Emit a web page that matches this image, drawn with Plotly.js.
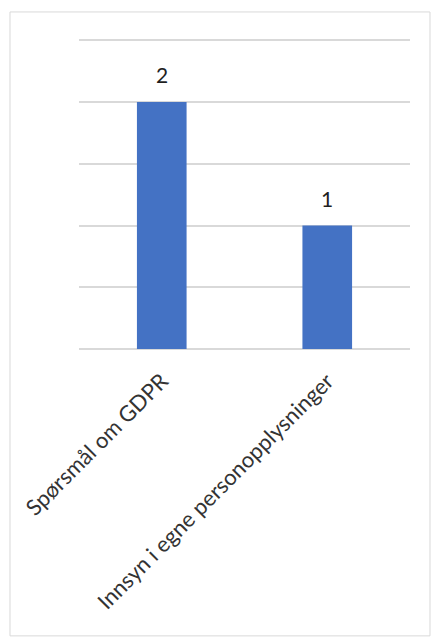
<!DOCTYPE html>
<html>
<head>
<meta charset="utf-8">
<script src="https://cdn.plot.ly/plotly-3.0.1.min.js"></script>
<style>html,body{margin:0;padding:0;background:#fff;}#chart{width:434px;height:640px;}</style>
</head>
<body>
<div id="chart"></div>
<script>
const categories = ["Spørsmål om GDPR", "Innsyn i egne personopplysninger"];
const values = [2, 1];
const yTicks = [0, 0.5, 1, 1.5, 2, 2.5];

const trace = {
  type: "bar",
  x: categories,
  y: values,
  marker: {color: "#4472C4"},
  hoverinfo: "none"
};

const annotations = categories.map((c, i) => ({
  x: c, y: values[i], xref: "x", yref: "y",
  text: String(values[i]), showarrow: false,
  yanchor: "bottom", yshift: 13,
  font: {family: "Lato, 'Open Sans', sans-serif", size: 21, color: "#1f1f1f"}
}));

const layout = {
  width: 434, height: 640,
  margin: {l: 79, r: 24, t: 36, b: 291},
  paper_bgcolor: "#ffffff", plot_bgcolor: "#ffffff",
  bargap: 0.7,
  showlegend: false,
  font: {family: "Lato, 'Open Sans', sans-serif", color: "#404040"},
  xaxis: {
    type: "category",
    tickangle: -45,
    tickfont: {size: 22, color: "#333333"},
    ticklabelstandoff: 14,
    showgrid: false, zeroline: false, showline: false, ticks: ""
  },
  yaxis: {
    range: [0, 2.535],
    tickvals: yTicks,
    showticklabels: false,
    showgrid: true, gridcolor: "#d9d9d9", gridwidth: 2,
    zeroline: true, zerolinecolor: "#d9d9d9", zerolinewidth: 2,
    showline: false, ticks: ""
  },
  annotations: annotations,
  shapes: [{
    type: "rect", xref: "paper", yref: "paper",
    x0: -0.2085, x1: 1.0604, y0: -0.9165, y1: 1.0768,
    line: {color: "#d9d9d9", width: 1}, fillcolor: "rgba(0,0,0,0)", layer: "below"
  }]
};

Plotly.newPlot("chart", [trace], layout, {displayModeBar: false, staticPlot: true});
</script>
</body>
</html>
